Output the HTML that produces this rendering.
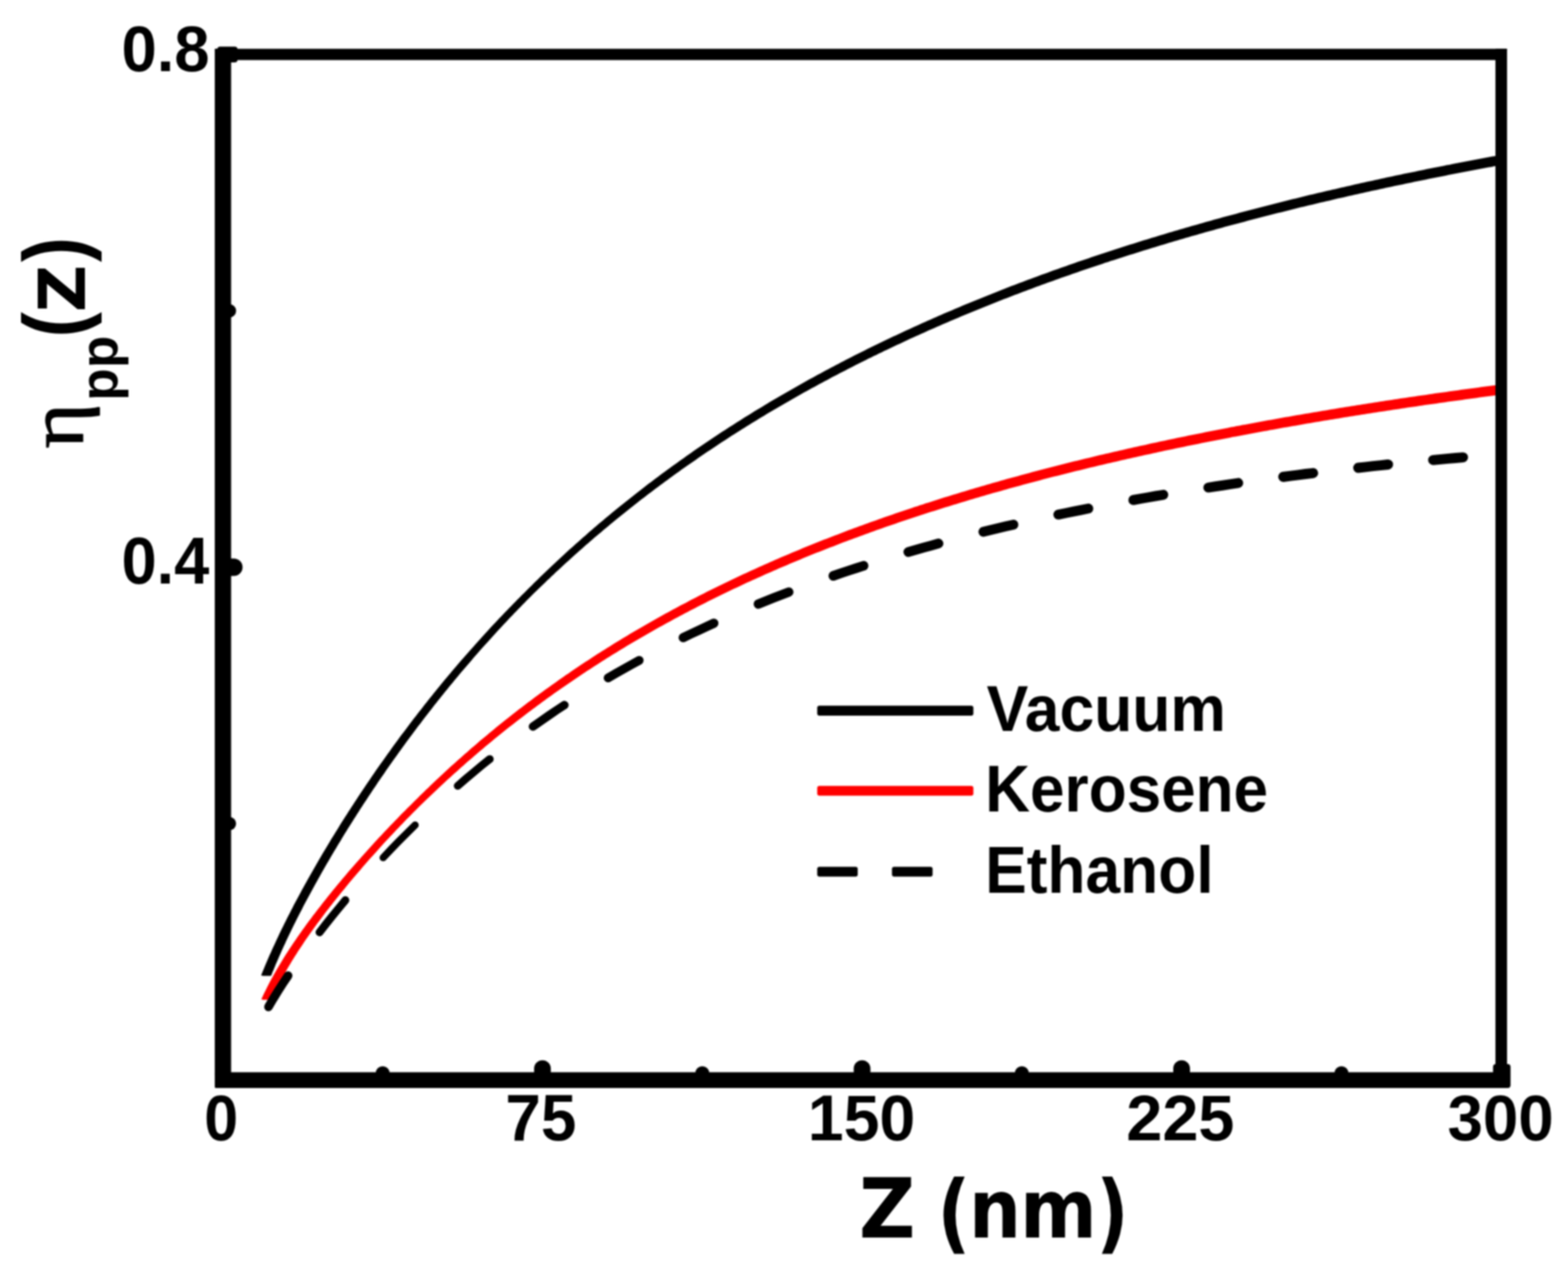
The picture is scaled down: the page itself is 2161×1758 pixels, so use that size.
<!DOCTYPE html>
<html lang="en">
<head>
<meta charset="utf-8">
<title>Efficiency versus separation Z (nm) for vacuum, kerosene and ethanol</title>
<style>
html,body{margin:0;padding:0;background:#fff;}
body{width:2161px;height:1758px;overflow:hidden;}
svg{display:block;filter:blur(0.8px);}
</style>
</head>
<body>
<svg xmlns="http://www.w3.org/2000/svg" width="2161" height="1758" viewBox="0 0 2161 1758">
<rect width="2161" height="1758" fill="#fff"/>
<path d="M365.3,1377.6 Q359.8,1377.6 360.4,1376.3 L361.0,1374.9 L362.7,1371.3 L364.5,1367.6 L366.3,1364.0 L368.1,1360.3 L369.9,1356.7 L371.8,1353.1 L373.7,1349.5 L375.7,1346.0 L377.6,1342.4 L379.6,1338.9 L381.6,1335.4 L383.7,1331.9 L385.8,1328.4 L387.9,1324.9 L390.0,1321.4 L392.1,1318.0 L394.3,1314.6 L396.5,1311.2 L398.7,1307.8 L400.9,1304.4 L403.2,1301.0 L405.4,1297.7 L407.7,1294.4 L410.0,1291.0 L412.3,1287.7 L414.6,1284.4 L417.0,1281.1 L419.3,1277.9 L421.7,1274.6 L424.1,1271.3 L426.5,1268.1 L428.9,1264.9 L431.3,1261.6 L433.8,1258.4 L436.2,1255.2 L438.7,1252.0 L441.2,1248.9 L443.6,1245.7 L446.1,1242.5 L448.6,1239.4 L451.1,1236.2 L453.7,1233.1 L456.2,1229.9 L458.7,1226.8 L461.3,1223.7 L463.9,1220.6 L466.4,1217.5 L469.0,1214.4 L471.6,1211.3 L474.2,1208.2 L476.8,1205.2 L479.4,1202.1 L482.0,1199.1 L484.7,1196.0 L487.3,1193.0 L489.9,1189.9 L492.6,1186.9 L495.3,1183.9 L497.9,1180.9 L500.6,1177.9 L503.3,1174.9 L506.0,1171.9 L508.7,1168.9 L511.4,1165.9 L514.1,1163.0 L516.8,1160.0 L519.6,1157.1 L522.3,1154.1 L525.1,1151.2 L527.8,1148.2 L530.6,1145.3 L533.3,1142.4 L536.1,1139.5 L538.9,1136.6 L541.7,1133.7 L544.5,1130.8 L547.3,1127.9 L550.1,1125.0 L552.9,1122.1 L555.7,1119.3 L558.6,1116.4 L561.4,1113.6 L564.3,1110.7 L567.1,1107.9 L570.0,1105.1 L572.8,1102.2 L575.7,1099.4 L578.5,1096.6 L581.4,1093.8 L584.3,1090.9 L587.2,1088.1 L590.1,1085.4 L593.0,1082.6 L595.9,1079.8 L598.8,1077.0 L601.7,1074.3 L604.7,1071.5 L607.6,1068.8 L610.6,1066.0 L613.5,1063.3 L616.5,1060.6 L619.4,1057.8 L622.4,1055.1 L625.4,1052.4 L628.4,1049.7 L631.4,1047.1 L634.4,1044.4 L637.4,1041.7 L640.4,1039.1 L643.5,1036.4 L646.5,1033.8 L649.5,1031.1 L652.6,1028.5 L655.6,1025.9 L658.7,1023.2 L661.7,1020.6 L664.8,1018.0 L667.9,1015.5 L671.0,1012.9 L674.1,1010.3 L677.2,1007.7 L680.3,1005.2 L683.4,1002.6 L686.5,1000.1 L689.7,997.6 L692.8,995.0 L695.9,992.5 L699.1,990.0 L702.3,987.5 L705.4,985.0 L708.6,982.6 L711.8,980.1 L714.9,977.6 L718.1,975.2 L721.3,972.7 L724.5,970.3 L727.7,967.8 L731.0,965.4 L734.2,963.0 L737.4,960.6 L740.6,958.2 L743.9,955.8 L747.1,953.5 L750.4,951.1 L753.6,948.7 L756.9,946.4 L760.2,944.0 L763.5,941.7 L766.7,939.4 L770.0,937.0 L773.3,934.7 L776.6,932.4 L779.9,930.1 L783.3,927.9 L786.6,925.6 L789.9,923.3 L793.2,921.1 L796.6,918.8 L799.9,916.6 L803.3,914.3 L806.6,912.1 L810.0,909.9 L813.4,907.7 L816.7,905.5 L820.1,903.3 L823.5,901.1 L826.9,899.0 L830.3,896.8 L833.7,894.7 L837.1,892.5 L840.5,890.4 L843.9,888.3 L847.4,886.1 L850.8,884.0 L854.2,881.9 L857.7,879.8 L861.1,877.8 L864.6,875.7 L868.0,873.6 L871.5,871.6 L874.9,869.5 L878.4,867.5 L881.9,865.5 L885.4,863.4 L888.8,861.4 L892.3,859.4 L895.8,857.4 L899.3,855.4 L902.8,853.5 L906.3,851.5 L909.9,849.5 L913.4,847.6 L916.9,845.6 L920.4,843.7 L924.0,841.8 L927.5,839.8 L931.0,837.9 L934.6,836.0 L938.1,834.1 L941.7,832.2 L945.3,830.4 L948.8,828.5 L952.4,826.6 L956.0,824.8 L959.5,822.9 L963.1,821.1 L966.7,819.3 L970.3,817.4 L973.9,815.6 L977.5,813.8 L981.1,812.0 L984.7,810.2 L988.3,808.5 L991.9,806.7 L995.5,804.9 L999.1,803.2 L1002.8,801.4 L1006.4,799.7 L1010.0,798.0 L1013.7,796.2 L1017.3,794.5 L1021.0,792.8 L1024.6,791.1 L1028.3,789.4 L1031.9,787.7 L1035.6,786.1 L1039.2,784.4 L1042.9,782.7 L1046.6,781.1 L1050.2,779.4 L1053.9,777.8 L1057.6,776.2 L1061.3,774.5 L1064.9,772.9 L1068.6,771.3 L1072.3,769.7 L1076.0,768.1 L1079.7,766.5 L1083.4,765.0 L1087.1,763.4 L1090.8,761.8 L1094.5,760.3 L1098.3,758.7 L1102.0,757.2 L1105.7,755.6 L1109.4,754.1 L1113.1,752.6 L1116.9,751.1 L1120.6,749.6 L1124.3,748.1 L1128.1,746.6 L1131.8,745.1 L1135.5,743.6 L1139.3,742.2 L1143.0,740.7 L1146.8,739.2 L1150.5,737.8 L1154.3,736.4 L1158.0,734.9 L1161.8,733.5 L1165.6,732.1 L1169.3,730.6 L1173.1,729.2 L1176.9,727.8 L1180.6,726.4 L1184.4,725.1 L1188.2,723.7 L1192.0,722.3 L1195.7,720.9 L1199.5,719.6 L1203.3,718.2 L1207.1,716.9 L1210.9,715.5 L1214.7,714.2 L1218.5,712.8 L1222.3,711.5 L1226.1,710.2 L1229.9,708.9 L1233.7,707.6 L1237.5,706.3 L1241.3,705.0 L1245.1,703.7 L1248.9,702.4 L1252.7,701.2 L1256.5,699.9 L1260.4,698.6 L1264.2,697.4 L1268.0,696.1 L1271.8,694.9 L1275.6,693.6 L1279.5,692.4 L1283.3,691.2 L1287.1,689.9 L1291.0,688.7 L1294.8,687.5 L1298.6,686.3 L1302.5,685.1 L1306.3,683.9 L1310.1,682.7 L1314.0,681.6 L1317.8,680.4 L1321.7,679.2 L1325.5,678.0 L1329.4,676.9 L1333.2,675.7 L1337.1,674.6 L1340.9,673.4 L1344.8,672.3 L1348.6,671.2 L1352.5,670.0 L1356.4,668.9 L1360.2,667.8 L1364.1,666.7 L1367.9,665.6 L1371.8,664.5 L1375.7,663.4 L1379.5,662.3 L1383.4,661.2 L1387.3,660.1 L1391.2,659.1 L1395.0,658.0 L1398.9,656.9 L1402.8,655.9 L1406.7,654.8 L1410.5,653.8 L1414.4,652.7 L1418.3,651.7 L1422.2,650.6 L1426.1,649.6 L1430.0,648.6 L1433.8,647.5 L1437.7,646.5 L1441.6,645.5 L1445.5,644.5 L1449.4,643.5 L1453.3,642.5 L1457.2,641.5 L1461.1,640.5 L1465.0,639.5 L1468.9,638.6 L1472.8,637.6 L1476.7,636.6 L1480.6,635.6 L1484.5,634.7 L1488.4,633.7 L1492.3,632.8 L1496.2,631.8 L1500.1,630.9 L1504.0,629.9 L1507.9,629.0 L1511.8,628.1 L1515.7,627.1 L1519.6,626.2 L1523.5,625.3 L1527.4,624.4 L1531.4,623.5 L1535.3,622.6 L1539.2,621.7 L1543.1,620.8 L1547.0,619.9 L1550.9,619.0 L1554.9,618.1 L1558.8,617.2 L1562.7,616.3 L1566.6,615.5 L1570.5,614.6 L1574.5,613.7 L1578.4,612.9 L1582.3,612.0 L1586.2,611.1 L1590.1,610.3 L1594.1,609.4 L1598.0,608.6 L1601.9,607.7 L1605.9,606.9 L1609.8,606.1 L1613.7,605.2 L1617.6,604.4 L1621.6,603.6 L1625.5,602.8 L1629.4,602.0 L1633.4,601.2 L1637.3,600.3 L1641.2,599.5 L1645.2,598.7 L1649.1,597.9 L1653.1,597.2 L1657.0,596.4 L1660.9,595.6 L1664.9,594.8 L1668.8,594.0 L1672.8,593.2 L1676.7,592.5 L1680.6,591.7 L1684.6,590.9 L1688.5,590.2 L1692.5,589.4 L1696.4,588.6 L1700.3,587.9 L1704.3,587.1 L1708.2,586.4 L1712.2,585.6 L1716.1,584.9 L1720.1,584.2 L1724.0,583.4 L1728.0,582.7 L1731.9,582.0 L1735.9,581.2 L1739.8,580.5 L1743.8,579.8 L1747.7,579.1 L1751.7,578.4 L1755.6,577.7 L1759.6,577.0 L1763.5,576.2 L1767.5,575.5 L1771.4,574.8 L1775.4,574.2 L1779.4,573.5 L1783.3,572.8 L1787.3,572.1 L1791.2,571.4 L1795.2,570.7 L1799.1,570.0 L1803.1,569.4 L1807.0,568.7 L1811.0,568.0 L1815.0,567.4 L1818.9,566.7 L1822.9,566.0 L1826.8,565.4 L1830.8,564.7 L1834.8,564.1 L1838.7,563.4 L1842.7,562.8 L1846.7,562.1 L1850.6,561.5 L1854.6,560.8 L1858.5,560.2 L1862.5,559.5 L1866.5,558.9 L1870.4,558.3 L1874.4,557.7 L1878.4,557.0 L1882.3,556.4 L1886.3,555.8 L1890.3,555.2 L1894.2,554.5 L1898.2,553.9 L1902.2,553.3 L1906.1,552.7 L1910.1,552.1 L1914.1,551.5 L1918.0,550.9 L1922.0,550.3 L1926.0,549.7 L1929.9,549.1 L1933.9,548.5 L1937.9,547.9 L1941.9,547.3 L1945.8,546.8 L1949.8,546.2 L1953.8,545.6 L1957.7,545.0 L1961.7,544.4 L1965.7,543.9 L1969.7,543.3 L1973.6,542.7 L1977.6,542.1 L1981.6,541.6 L1985.6,541.0 L1989.5,540.5 L1993.5,539.9 L1997.5,539.3 L2001.5,538.8 L2005.4,538.2 L2009.4,537.7 L2013.4,537.1 L2017.4,536.6 L2021.3,536.0 L2025.3,535.5 L2029.3,535.0 L2033.3,534.4 L2037.2,533.9 L2041.2,533.3 L2045.2,532.8 L2049.2,532.3 L2053.2,531.7 L2057.1,531.2 L2061.1,530.7 L2065.1,530.2 L2066.9,543.9 L2062.9,544.5 L2059.0,545.0 L2055.0,545.5 L2051.0,546.0 L2047.0,546.6 L2043.1,547.1 L2039.1,547.6 L2035.1,548.2 L2031.2,548.7 L2027.2,549.2 L2023.2,549.8 L2019.2,550.3 L2015.3,550.9 L2011.3,551.4 L2007.3,552.0 L2003.4,552.5 L1999.4,553.1 L1995.4,553.6 L1991.5,554.2 L1987.5,554.7 L1983.5,555.3 L1979.6,555.9 L1975.6,556.4 L1971.6,557.0 L1967.7,557.6 L1963.7,558.1 L1959.7,558.7 L1955.8,559.3 L1951.8,559.9 L1947.8,560.5 L1943.9,561.0 L1939.9,561.6 L1936.0,562.2 L1932.0,562.8 L1928.0,563.4 L1924.1,564.0 L1920.1,564.6 L1916.1,565.2 L1912.2,565.8 L1908.2,566.4 L1904.3,567.0 L1900.3,567.6 L1896.3,568.2 L1892.4,568.8 L1888.4,569.4 L1884.5,570.1 L1880.5,570.7 L1876.6,571.3 L1872.6,571.9 L1868.6,572.6 L1864.7,573.2 L1860.7,573.8 L1856.8,574.5 L1852.8,575.1 L1848.9,575.7 L1844.9,576.4 L1841.0,577.0 L1837.0,577.7 L1833.1,578.3 L1829.1,579.0 L1825.2,579.6 L1821.2,580.3 L1817.3,581.0 L1813.3,581.6 L1809.4,582.3 L1805.4,583.0 L1801.5,583.6 L1797.5,584.3 L1793.6,585.0 L1789.6,585.7 L1785.7,586.4 L1781.7,587.0 L1777.8,587.7 L1773.8,588.4 L1769.9,589.1 L1765.9,589.8 L1762.0,590.5 L1758.1,591.2 L1754.1,591.9 L1750.2,592.6 L1746.2,593.4 L1742.3,594.1 L1738.4,594.8 L1734.4,595.5 L1730.5,596.2 L1726.5,597.0 L1722.6,597.7 L1718.7,598.4 L1714.7,599.2 L1710.8,599.9 L1706.9,600.7 L1702.9,601.4 L1699.0,602.1 L1695.1,602.9 L1691.1,603.7 L1687.2,604.4 L1683.3,605.2 L1679.3,605.9 L1675.4,606.7 L1671.5,607.5 L1667.5,608.3 L1663.6,609.0 L1659.7,609.8 L1655.8,610.6 L1651.8,611.4 L1647.9,612.2 L1644.0,613.0 L1640.1,613.8 L1636.1,614.6 L1632.2,615.4 L1628.3,616.2 L1624.4,617.0 L1620.5,617.8 L1616.5,618.7 L1612.6,619.5 L1608.7,620.3 L1604.8,621.1 L1600.9,622.0 L1597.0,622.8 L1593.0,623.7 L1589.1,624.5 L1585.2,625.4 L1581.3,626.2 L1577.4,627.1 L1573.5,627.9 L1569.6,628.8 L1565.7,629.7 L1561.8,630.5 L1557.9,631.4 L1553.9,632.3 L1550.0,633.2 L1546.1,634.1 L1542.2,635.0 L1538.3,635.9 L1534.4,636.8 L1530.5,637.7 L1526.6,638.6 L1522.7,639.5 L1518.8,640.4 L1514.9,641.3 L1511.1,642.2 L1507.2,643.2 L1503.3,644.1 L1499.4,645.0 L1495.5,646.0 L1491.6,646.9 L1487.7,647.9 L1483.8,648.8 L1479.9,649.8 L1476.1,650.8 L1472.2,651.7 L1468.3,652.7 L1464.4,653.7 L1460.5,654.7 L1456.6,655.7 L1452.8,656.6 L1448.9,657.6 L1445.0,658.6 L1441.1,659.6 L1437.3,660.6 L1433.4,661.7 L1429.5,662.7 L1425.7,663.7 L1421.8,664.7 L1417.9,665.8 L1414.1,666.8 L1410.2,667.8 L1406.3,668.9 L1402.5,669.9 L1398.6,671.0 L1394.8,672.1 L1390.9,673.1 L1387.0,674.2 L1383.2,675.3 L1379.3,676.4 L1375.5,677.4 L1371.6,678.5 L1367.8,679.6 L1363.9,680.7 L1360.1,681.8 L1356.3,682.9 L1352.4,684.1 L1348.6,685.2 L1344.7,686.3 L1340.9,687.4 L1337.1,688.6 L1333.2,689.7 L1329.4,690.9 L1325.6,692.0 L1321.7,693.2 L1317.9,694.4 L1314.1,695.5 L1310.3,696.7 L1306.4,697.9 L1302.6,699.1 L1298.8,700.3 L1295.0,701.5 L1291.2,702.7 L1287.4,703.9 L1283.5,705.1 L1279.7,706.3 L1275.9,707.5 L1272.1,708.8 L1268.3,710.0 L1264.5,711.3 L1260.7,712.5 L1256.9,713.8 L1253.1,715.0 L1249.3,716.3 L1245.5,717.6 L1241.7,718.8 L1238.0,720.1 L1234.2,721.4 L1230.4,722.7 L1226.6,724.0 L1222.8,725.3 L1219.1,726.6 L1215.3,728.0 L1211.5,729.3 L1207.7,730.6 L1204.0,732.0 L1200.2,733.3 L1196.4,734.7 L1192.7,736.0 L1188.9,737.4 L1185.2,738.8 L1181.4,740.2 L1177.7,741.5 L1173.9,742.9 L1170.2,744.3 L1166.4,745.7 L1162.7,747.1 L1158.9,748.6 L1155.2,750.0 L1151.5,751.4 L1147.8,752.9 L1144.0,754.3 L1140.3,755.8 L1136.6,757.2 L1132.9,758.7 L1129.1,760.2 L1125.4,761.6 L1121.7,763.1 L1118.0,764.6 L1114.3,766.1 L1110.6,767.6 L1106.9,769.1 L1103.2,770.7 L1099.5,772.2 L1095.8,773.7 L1092.1,775.3 L1088.4,776.8 L1084.8,778.4 L1081.1,780.0 L1077.4,781.5 L1073.7,783.1 L1070.1,784.7 L1066.4,786.3 L1062.7,787.9 L1059.1,789.5 L1055.4,791.1 L1051.8,792.7 L1048.1,794.4 L1044.5,796.0 L1040.8,797.7 L1037.2,799.3 L1033.6,801.0 L1029.9,802.6 L1026.3,804.3 L1022.7,806.0 L1019.1,807.7 L1015.4,809.4 L1011.8,811.1 L1008.2,812.8 L1004.6,814.5 L1001.0,816.3 L997.4,818.0 L993.8,819.8 L990.2,821.5 L986.6,823.3 L983.1,825.1 L979.5,826.8 L975.9,828.6 L972.3,830.4 L968.8,832.2 L965.2,834.0 L961.7,835.8 L958.1,837.7 L954.6,839.5 L951.0,841.3 L947.5,843.2 L943.9,845.1 L940.4,846.9 L936.9,848.8 L933.3,850.7 L929.8,852.6 L926.3,854.5 L922.8,856.4 L919.3,858.3 L915.8,860.2 L912.3,862.2 L908.8,864.1 L905.3,866.1 L901.8,868.0 L898.4,870.0 L894.9,872.0 L891.4,873.9 L888.0,875.9 L884.5,877.9 L881.0,879.9 L877.6,882.0 L874.1,884.0 L870.7,886.0 L867.3,888.1 L863.8,890.1 L860.4,892.2 L857.0,894.2 L853.6,896.3 L850.2,898.4 L846.8,900.5 L843.4,902.6 L840.0,904.7 L836.6,906.8 L833.2,909.0 L829.9,911.1 L826.5,913.2 L823.1,915.4 L819.8,917.6 L816.4,919.7 L813.1,921.9 L809.7,924.1 L806.4,926.3 L803.0,928.5 L799.7,930.7 L796.4,932.9 L793.1,935.2 L789.8,937.4 L786.5,939.7 L783.2,941.9 L779.9,944.2 L776.6,946.5 L773.3,948.7 L770.1,951.0 L766.8,953.3 L763.5,955.6 L760.3,958.0 L757.0,960.3 L753.8,962.6 L750.5,965.0 L747.3,967.3 L744.1,969.7 L740.9,972.0 L737.7,974.4 L734.5,976.8 L731.3,979.2 L728.1,981.6 L724.9,984.0 L721.7,986.4 L718.5,988.9 L715.4,991.3 L712.2,993.7 L709.0,996.2 L705.9,998.7 L702.8,1001.1 L699.6,1003.6 L696.5,1006.1 L693.4,1008.6 L690.3,1011.1 L687.2,1013.6 L684.1,1016.1 L681.0,1018.6 L677.9,1021.2 L674.8,1023.7 L671.7,1026.3 L668.6,1028.8 L665.6,1031.4 L662.5,1034.0 L659.5,1036.6 L656.4,1039.2 L653.4,1041.8 L650.4,1044.4 L647.4,1047.0 L644.3,1049.6 L641.3,1052.2 L638.3,1054.9 L635.3,1057.5 L632.4,1060.2 L629.4,1062.9 L626.4,1065.5 L623.4,1068.2 L620.5,1070.9 L617.5,1073.6 L614.6,1076.3 L611.7,1079.0 L608.7,1081.7 L605.8,1084.4 L602.9,1087.2 L600.0,1089.9 L597.1,1092.7 L594.2,1095.4 L591.3,1098.2 L588.4,1101.0 L585.5,1103.7 L582.7,1106.5 L579.8,1109.3 L577.0,1112.1 L574.1,1114.9 L571.3,1117.7 L568.5,1120.6 L565.7,1123.4 L562.9,1126.3 L560.1,1129.1 L557.3,1132.0 L554.5,1134.9 L551.7,1137.8 L549.0,1140.7 L546.2,1143.6 L543.5,1146.5 L540.7,1149.4 L538.0,1152.3 L535.3,1155.2 L532.6,1158.1 L529.8,1161.1 L527.1,1164.0 L524.4,1167.0 L521.8,1169.9 L519.1,1172.9 L516.4,1175.9 L513.7,1178.9 L511.1,1181.8 L508.4,1184.8 L505.8,1187.8 L503.2,1190.8 L500.5,1193.8 L497.9,1196.9 L495.3,1199.9 L492.7,1202.9 L490.1,1206.0 L487.5,1209.0 L485.0,1212.1 L482.4,1215.1 L479.8,1218.2 L477.3,1221.3 L474.8,1224.4 L472.2,1227.5 L469.7,1230.6 L467.2,1233.7 L464.7,1236.8 L462.2,1239.9 L459.7,1243.0 L457.3,1246.2 L454.8,1249.3 L452.4,1252.5 L449.9,1255.6 L447.5,1258.8 L445.1,1262.0 L442.7,1265.2 L440.3,1268.4 L437.9,1271.6 L435.6,1274.8 L433.2,1278.0 L430.9,1281.2 L428.6,1284.5 L426.3,1287.7 L424.0,1291.0 L421.7,1294.3 L419.5,1297.6 L417.3,1300.9 L415.1,1304.2 L412.9,1307.5 L410.7,1310.8 L408.6,1314.2 L406.4,1317.5 L404.3,1320.9 L402.2,1324.3 L400.2,1327.7 L398.2,1331.1 L396.1,1334.5 L394.2,1337.9 L392.2,1341.4 L390.3,1344.8 L388.4,1348.3 L386.5,1351.8 L384.7,1355.3 L382.8,1358.8 L381.1,1362.4 L379.3,1365.9 L377.6,1369.5 L375.9,1373.0 L374.8,1375.3 Q373.8,1377.6 368.3,1377.6Z" fill="#ff0000"/>
<path d="M365.0,1344.6 Q359.5,1344.6 360.0,1343.4 L360.5,1342.2 L362.0,1338.4 L363.6,1334.7 L365.1,1331.0 L366.7,1327.2 L368.3,1323.5 L369.9,1319.8 L371.5,1316.1 L373.2,1312.4 L374.8,1308.7 L376.5,1305.1 L378.2,1301.4 L379.9,1297.7 L381.6,1294.1 L383.3,1290.4 L385.0,1286.8 L386.8,1283.1 L388.5,1279.5 L390.3,1275.9 L392.1,1272.3 L393.9,1268.7 L395.7,1265.1 L397.5,1261.5 L399.4,1257.9 L401.2,1254.3 L403.1,1250.7 L404.9,1247.1 L406.8,1243.6 L408.7,1240.0 L410.6,1236.5 L412.5,1232.9 L414.4,1229.4 L416.3,1225.8 L418.3,1222.3 L420.2,1218.8 L422.2,1215.2 L424.1,1211.7 L426.1,1208.2 L428.1,1204.7 L430.1,1201.2 L432.1,1197.7 L434.1,1194.2 L436.1,1190.7 L438.1,1187.2 L440.1,1183.7 L442.2,1180.3 L444.2,1176.8 L446.3,1173.3 L448.3,1169.9 L450.4,1166.4 L452.5,1163.0 L454.6,1159.5 L456.6,1156.1 L458.7,1152.7 L460.9,1149.2 L463.0,1145.8 L465.1,1142.4 L467.2,1139.0 L469.3,1135.5 L471.5,1132.1 L473.6,1128.7 L475.8,1125.3 L478.0,1121.9 L480.1,1118.5 L482.3,1115.2 L484.5,1111.8 L486.7,1108.4 L488.9,1105.0 L491.1,1101.7 L493.3,1098.3 L495.5,1095.0 L497.8,1091.6 L500.0,1088.3 L502.2,1084.9 L504.5,1081.6 L506.7,1078.2 L509.0,1074.9 L511.3,1071.6 L513.5,1068.3 L515.8,1065.0 L518.1,1061.6 L520.4,1058.3 L522.7,1055.0 L525.0,1051.7 L527.4,1048.5 L529.7,1045.2 L532.0,1041.9 L534.4,1038.6 L536.7,1035.4 L539.1,1032.1 L541.4,1028.8 L543.8,1025.6 L546.2,1022.3 L548.6,1019.1 L550.9,1015.8 L553.3,1012.6 L555.7,1009.4 L558.2,1006.2 L560.6,1002.9 L563.0,999.7 L565.4,996.5 L567.9,993.3 L570.3,990.1 L572.8,986.9 L575.2,983.7 L577.7,980.6 L580.2,977.4 L582.7,974.2 L585.1,971.1 L587.6,967.9 L590.1,964.8 L592.7,961.6 L595.2,958.5 L597.7,955.3 L600.2,952.2 L602.8,949.1 L605.3,946.0 L607.9,942.8 L610.4,939.7 L613.0,936.6 L615.6,933.5 L618.1,930.5 L620.7,927.4 L623.3,924.3 L625.9,921.2 L628.5,918.2 L631.2,915.1 L633.8,912.1 L636.4,909.0 L639.1,906.0 L641.7,902.9 L644.4,899.9 L647.0,896.9 L649.7,893.9 L652.4,890.9 L655.0,887.9 L657.7,884.9 L660.4,881.9 L663.1,878.9 L665.8,875.9 L668.5,872.9 L671.3,870.0 L674.0,867.0 L676.7,864.1 L679.5,861.1 L682.2,858.2 L685.0,855.3 L687.7,852.3 L690.5,849.4 L693.3,846.5 L696.1,843.6 L698.9,840.7 L701.7,837.8 L704.5,834.9 L707.3,832.0 L710.1,829.2 L712.9,826.3 L715.8,823.5 L718.6,820.6 L721.5,817.8 L724.3,814.9 L727.2,812.1 L730.0,809.2 L732.9,806.4 L735.7,803.6 L738.6,800.8 L741.5,797.9 L744.4,795.1 L747.3,792.3 L750.2,789.5 L753.1,786.8 L756.0,784.0 L758.9,781.2 L761.8,778.5 L764.8,775.7 L767.7,773.0 L770.7,770.2 L773.6,767.5 L776.6,764.7 L779.5,762.0 L782.5,759.3 L785.5,756.6 L788.5,753.9 L791.5,751.2 L794.5,748.5 L797.5,745.9 L800.5,743.2 L803.5,740.5 L806.6,737.9 L809.6,735.2 L812.6,732.6 L815.7,730.0 L818.7,727.3 L821.8,724.7 L824.8,722.1 L827.9,719.5 L831.0,716.9 L834.1,714.3 L837.2,711.7 L840.3,709.2 L843.4,706.6 L846.5,704.1 L849.6,701.5 L852.7,699.0 L855.8,696.4 L859.0,693.9 L862.1,691.4 L865.3,688.9 L868.4,686.4 L871.6,683.9 L874.7,681.4 L877.9,678.9 L881.1,676.4 L884.3,674.0 L887.5,671.5 L890.6,669.0 L893.8,666.6 L897.1,664.2 L900.3,661.7 L903.5,659.3 L906.7,656.9 L909.9,654.5 L913.2,652.1 L916.4,649.7 L919.7,647.3 L922.9,645.0 L926.2,642.6 L929.4,640.2 L932.7,637.9 L936.0,635.5 L939.2,633.2 L942.5,630.9 L945.8,628.5 L949.1,626.2 L952.4,623.9 L955.7,621.6 L959.0,619.3 L962.3,617.1 L965.7,614.8 L969.0,612.5 L972.3,610.2 L975.7,608.0 L979.0,605.7 L982.3,603.5 L985.7,601.3 L989.1,599.1 L992.4,596.8 L995.8,594.6 L999.2,592.4 L1002.5,590.2 L1005.9,588.1 L1009.3,585.9 L1012.7,583.7 L1016.1,581.6 L1019.5,579.4 L1022.9,577.3 L1026.3,575.1 L1029.7,573.0 L1033.1,570.9 L1036.6,568.7 L1040.0,566.6 L1043.4,564.5 L1046.9,562.4 L1050.3,560.4 L1053.8,558.3 L1057.2,556.2 L1060.7,554.1 L1064.1,552.1 L1067.6,550.0 L1071.1,548.0 L1074.5,546.0 L1078.0,543.9 L1081.5,541.9 L1085.0,539.9 L1088.5,537.9 L1092.0,535.9 L1095.5,533.9 L1099.0,531.9 L1102.5,530.0 L1106.0,528.0 L1109.5,526.0 L1113.0,524.1 L1116.6,522.1 L1120.1,520.2 L1123.6,518.3 L1127.1,516.3 L1130.7,514.4 L1134.2,512.5 L1137.8,510.6 L1141.3,508.7 L1144.9,506.8 L1148.4,504.9 L1152.0,503.1 L1155.6,501.2 L1159.1,499.3 L1162.7,497.5 L1166.3,495.6 L1169.9,493.8 L1173.4,492.0 L1177.0,490.1 L1180.6,488.3 L1184.2,486.5 L1187.8,484.7 L1191.4,482.9 L1195.0,481.1 L1198.6,479.3 L1202.2,477.6 L1205.9,475.8 L1209.5,474.0 L1213.1,472.3 L1216.7,470.5 L1220.3,468.8 L1224.0,467.0 L1227.6,465.3 L1231.2,463.6 L1234.9,461.9 L1238.5,460.2 L1242.2,458.5 L1245.8,456.8 L1249.5,455.1 L1253.1,453.4 L1256.8,451.7 L1260.5,450.0 L1264.1,448.4 L1267.8,446.7 L1271.5,445.1 L1275.1,443.4 L1278.8,441.8 L1282.5,440.2 L1286.2,438.5 L1289.8,436.9 L1293.5,435.3 L1297.2,433.7 L1300.9,432.1 L1304.6,430.5 L1308.3,428.9 L1312.0,427.4 L1315.7,425.8 L1319.4,424.2 L1323.1,422.7 L1326.8,421.1 L1330.5,419.5 L1334.3,418.0 L1338.0,416.5 L1341.7,414.9 L1345.4,413.4 L1349.2,411.9 L1352.9,410.4 L1356.6,408.9 L1360.3,407.4 L1364.1,405.9 L1367.8,404.4 L1371.6,402.9 L1375.3,401.4 L1379.0,400.0 L1382.8,398.5 L1386.5,397.0 L1390.3,395.6 L1394.0,394.1 L1397.8,392.7 L1401.6,391.3 L1405.3,389.8 L1409.1,388.4 L1412.8,387.0 L1416.6,385.6 L1420.4,384.2 L1424.2,382.8 L1427.9,381.4 L1431.7,380.0 L1435.5,378.6 L1439.3,377.2 L1443.0,375.9 L1446.8,374.5 L1450.6,373.1 L1454.4,371.8 L1458.2,370.4 L1462.0,369.1 L1465.8,367.7 L1469.6,366.4 L1473.3,365.1 L1477.1,363.7 L1480.9,362.4 L1484.7,361.1 L1488.5,359.8 L1492.4,358.5 L1496.2,357.2 L1500.0,355.9 L1503.8,354.6 L1507.6,353.3 L1511.4,352.1 L1515.2,350.8 L1519.0,349.5 L1522.9,348.3 L1526.7,347.0 L1530.5,345.7 L1534.3,344.5 L1538.1,343.3 L1542.0,342.0 L1545.8,340.8 L1549.6,339.6 L1553.5,338.3 L1557.3,337.1 L1561.1,335.9 L1565.0,334.7 L1568.8,333.5 L1572.6,332.3 L1576.5,331.1 L1580.3,329.9 L1584.2,328.8 L1588.0,327.6 L1591.9,326.4 L1595.7,325.2 L1599.6,324.1 L1603.4,322.9 L1607.3,321.8 L1611.1,320.6 L1615.0,319.5 L1618.8,318.3 L1622.7,317.2 L1626.5,316.1 L1630.4,314.9 L1634.3,313.8 L1638.1,312.7 L1642.0,311.6 L1645.8,310.5 L1649.7,309.4 L1653.6,308.3 L1657.4,307.2 L1661.3,306.1 L1665.2,305.0 L1669.1,303.9 L1672.9,302.8 L1676.8,301.8 L1680.7,300.7 L1684.6,299.6 L1688.4,298.6 L1692.3,297.5 L1696.2,296.5 L1700.1,295.4 L1704.0,294.4 L1707.8,293.3 L1711.7,292.3 L1715.6,291.3 L1719.5,290.2 L1723.4,289.2 L1727.3,288.2 L1731.2,287.2 L1735.0,286.2 L1738.9,285.2 L1742.8,284.2 L1746.7,283.2 L1750.6,282.2 L1754.5,281.2 L1758.4,280.2 L1762.3,279.2 L1766.2,278.2 L1770.1,277.2 L1774.0,276.3 L1777.9,275.3 L1781.8,274.3 L1785.7,273.4 L1789.6,272.4 L1793.5,271.5 L1797.4,270.5 L1801.3,269.6 L1805.2,268.6 L1809.2,267.7 L1813.1,266.8 L1817.0,265.8 L1820.9,264.9 L1824.8,264.0 L1828.7,263.1 L1832.6,262.2 L1836.5,261.3 L1840.5,260.4 L1844.4,259.4 L1848.3,258.5 L1852.2,257.7 L1856.1,256.8 L1860.0,255.9 L1864.0,255.0 L1867.9,254.1 L1871.8,253.2 L1875.7,252.3 L1879.6,251.5 L1883.6,250.6 L1887.5,249.7 L1891.4,248.9 L1895.3,248.0 L1899.3,247.2 L1903.2,246.3 L1907.1,245.5 L1911.1,244.6 L1915.0,243.8 L1918.9,242.9 L1922.8,242.1 L1926.8,241.3 L1930.7,240.5 L1934.6,239.6 L1938.6,238.8 L1942.5,238.0 L1946.4,237.2 L1950.4,236.4 L1954.3,235.5 L1958.3,234.7 L1962.2,233.9 L1966.1,233.1 L1970.1,232.3 L1974.0,231.6 L1977.9,230.8 L1981.9,230.0 L1985.8,229.2 L1989.8,228.4 L1993.7,227.6 L1997.7,226.9 L2001.6,226.1 L2005.5,225.3 L2009.5,224.6 L2013.4,223.8 L2017.4,223.0 L2021.3,222.3 L2025.3,221.5 L2029.2,220.8 L2033.2,220.0 L2037.1,219.3 L2041.1,218.5 L2045.0,217.8 L2049.0,217.1 L2052.9,216.3 L2056.9,215.6 L2060.8,214.9 L2064.8,214.1 L2067.2,227.7 L2063.3,228.4 L2059.4,229.1 L2055.4,229.9 L2051.5,230.6 L2047.5,231.3 L2043.6,232.1 L2039.7,232.8 L2035.7,233.5 L2031.8,234.3 L2027.8,235.0 L2023.9,235.8 L2020.0,236.5 L2016.0,237.3 L2012.1,238.0 L2008.2,238.8 L2004.2,239.6 L2000.3,240.3 L1996.4,241.1 L1992.4,241.9 L1988.5,242.7 L1984.6,243.4 L1980.6,244.2 L1976.7,245.0 L1972.8,245.8 L1968.9,246.6 L1964.9,247.4 L1961.0,248.2 L1957.1,249.0 L1953.1,249.8 L1949.2,250.6 L1945.3,251.4 L1941.4,252.2 L1937.4,253.0 L1933.5,253.9 L1929.6,254.7 L1925.7,255.5 L1921.8,256.3 L1917.8,257.2 L1913.9,258.0 L1910.0,258.8 L1906.1,259.7 L1902.2,260.5 L1898.3,261.4 L1894.3,262.2 L1890.4,263.1 L1886.5,264.0 L1882.6,264.8 L1878.7,265.7 L1874.8,266.6 L1870.9,267.4 L1867.0,268.3 L1863.1,269.2 L1859.1,270.1 L1855.2,271.0 L1851.3,271.9 L1847.4,272.7 L1843.5,273.6 L1839.6,274.5 L1835.7,275.4 L1831.8,276.4 L1827.9,277.3 L1824.0,278.2 L1820.1,279.1 L1816.2,280.0 L1812.3,281.0 L1808.4,281.9 L1804.5,282.8 L1800.6,283.8 L1796.7,284.7 L1792.8,285.6 L1788.9,286.6 L1785.1,287.5 L1781.2,288.5 L1777.3,289.5 L1773.4,290.4 L1769.5,291.4 L1765.6,292.4 L1761.7,293.3 L1757.8,294.3 L1754.0,295.3 L1750.1,296.3 L1746.2,297.3 L1742.3,298.3 L1738.4,299.3 L1734.6,300.3 L1730.7,301.3 L1726.8,302.3 L1722.9,303.3 L1719.1,304.3 L1715.2,305.4 L1711.3,306.4 L1707.5,307.4 L1703.6,308.5 L1699.7,309.5 L1695.8,310.5 L1692.0,311.6 L1688.1,312.6 L1684.3,313.7 L1680.4,314.8 L1676.5,315.8 L1672.7,316.9 L1668.8,318.0 L1665.0,319.1 L1661.1,320.1 L1657.2,321.2 L1653.4,322.3 L1649.5,323.4 L1645.7,324.5 L1641.8,325.6 L1638.0,326.7 L1634.1,327.8 L1630.3,329.0 L1626.5,330.1 L1622.6,331.2 L1618.8,332.3 L1614.9,333.5 L1611.1,334.6 L1607.3,335.8 L1603.4,336.9 L1599.6,338.1 L1595.7,339.2 L1591.9,340.4 L1588.1,341.5 L1584.3,342.7 L1580.4,343.9 L1576.6,345.1 L1572.8,346.3 L1569.0,347.5 L1565.1,348.7 L1561.3,349.9 L1557.5,351.1 L1553.7,352.3 L1549.9,353.5 L1546.1,354.7 L1542.2,355.9 L1538.4,357.2 L1534.6,358.4 L1530.8,359.6 L1527.0,360.9 L1523.2,362.1 L1519.4,363.4 L1515.6,364.7 L1511.8,365.9 L1508.0,367.2 L1504.2,368.5 L1500.4,369.8 L1496.6,371.0 L1492.8,372.3 L1489.1,373.6 L1485.3,374.9 L1481.5,376.2 L1477.7,377.5 L1473.9,378.9 L1470.1,380.2 L1466.4,381.5 L1462.6,382.8 L1458.8,384.2 L1455.0,385.5 L1451.3,386.9 L1447.5,388.2 L1443.7,389.6 L1440.0,391.0 L1436.2,392.3 L1432.5,393.7 L1428.7,395.1 L1424.9,396.5 L1421.2,397.9 L1417.4,399.3 L1413.7,400.7 L1410.0,402.1 L1406.2,403.5 L1402.5,404.9 L1398.7,406.3 L1395.0,407.8 L1391.3,409.2 L1387.5,410.7 L1383.8,412.1 L1380.1,413.6 L1376.3,415.0 L1372.6,416.5 L1368.9,418.0 L1365.2,419.4 L1361.5,420.9 L1357.7,422.4 L1354.0,423.9 L1350.3,425.4 L1346.6,426.9 L1342.9,428.4 L1339.2,430.0 L1335.5,431.5 L1331.8,433.0 L1328.1,434.6 L1324.4,436.1 L1320.7,437.7 L1317.0,439.2 L1313.4,440.8 L1309.7,442.3 L1306.0,443.9 L1302.3,445.5 L1298.7,447.1 L1295.0,448.7 L1291.3,450.3 L1287.6,451.9 L1284.0,453.5 L1280.3,455.1 L1276.7,456.7 L1273.0,458.4 L1269.4,460.0 L1265.7,461.7 L1262.1,463.3 L1258.4,465.0 L1254.8,466.6 L1251.2,468.3 L1247.5,470.0 L1243.9,471.7 L1240.3,473.4 L1236.6,475.0 L1233.0,476.8 L1229.4,478.5 L1225.8,480.2 L1222.2,481.9 L1218.6,483.6 L1215.0,485.4 L1211.4,487.1 L1207.8,488.9 L1204.2,490.6 L1200.6,492.4 L1197.0,494.1 L1193.4,495.9 L1189.8,497.7 L1186.2,499.5 L1182.7,501.3 L1179.1,503.1 L1175.5,504.9 L1172.0,506.7 L1168.4,508.5 L1164.9,510.4 L1161.3,512.2 L1157.7,514.1 L1154.2,515.9 L1150.7,517.8 L1147.1,519.6 L1143.6,521.5 L1140.1,523.4 L1136.5,525.3 L1133.0,527.2 L1129.5,529.1 L1126.0,531.0 L1122.5,532.9 L1118.9,534.8 L1115.4,536.7 L1111.9,538.7 L1108.4,540.6 L1105.0,542.6 L1101.5,544.5 L1098.0,546.5 L1094.5,548.5 L1091.0,550.4 L1087.6,552.4 L1084.1,554.4 L1080.6,556.4 L1077.2,558.4 L1073.7,560.5 L1070.3,562.5 L1066.8,564.5 L1063.4,566.5 L1059.9,568.6 L1056.5,570.6 L1053.1,572.7 L1049.6,574.8 L1046.2,576.8 L1042.8,578.9 L1039.4,581.0 L1036.0,583.1 L1032.6,585.2 L1029.2,587.3 L1025.8,589.4 L1022.4,591.6 L1019.0,593.7 L1015.7,595.8 L1012.3,598.0 L1008.9,600.1 L1005.5,602.3 L1002.2,604.5 L998.8,606.7 L995.5,608.8 L992.1,611.0 L988.8,613.2 L985.5,615.4 L982.1,617.7 L978.8,619.9 L975.5,622.1 L972.2,624.3 L968.9,626.6 L965.6,628.8 L962.3,631.1 L959.0,633.4 L955.7,635.7 L952.4,637.9 L949.1,640.2 L945.8,642.5 L942.6,644.8 L939.3,647.1 L936.1,649.5 L932.8,651.8 L929.6,654.1 L926.3,656.5 L923.1,658.8 L919.9,661.2 L916.6,663.5 L913.4,665.9 L910.2,668.3 L907.0,670.7 L903.8,673.1 L900.6,675.5 L897.4,677.9 L894.2,680.3 L891.0,682.8 L887.9,685.2 L884.7,687.6 L881.5,690.1 L878.4,692.5 L875.2,695.0 L872.1,697.5 L868.9,699.9 L865.8,702.4 L862.7,704.9 L859.6,707.4 L856.4,709.9 L853.3,712.5 L850.2,715.0 L847.1,717.5 L844.1,720.1 L841.0,722.6 L837.9,725.2 L834.8,727.7 L831.7,730.3 L828.7,732.9 L825.6,735.4 L822.6,738.0 L819.5,740.6 L816.5,743.2 L813.5,745.8 L810.5,748.5 L807.4,751.1 L804.4,753.7 L801.4,756.4 L798.4,759.0 L795.4,761.7 L792.5,764.3 L789.5,767.0 L786.5,769.7 L783.6,772.4 L780.6,775.1 L777.6,777.8 L774.7,780.5 L771.8,783.2 L768.8,785.9 L765.9,788.6 L763.0,791.4 L760.1,794.1 L757.2,796.9 L754.3,799.6 L751.4,802.4 L748.5,805.2 L745.6,807.9 L742.7,810.7 L739.9,813.5 L737.0,816.3 L734.2,819.1 L731.3,821.9 L728.5,824.8 L725.7,827.6 L722.9,830.5 L720.1,833.3 L717.3,836.2 L714.5,839.0 L711.7,841.9 L708.9,844.8 L706.2,847.7 L703.4,850.6 L700.6,853.5 L697.9,856.4 L695.2,859.3 L692.4,862.2 L689.7,865.2 L687.0,868.1 L684.3,871.1 L681.6,874.0 L678.9,877.0 L676.2,879.9 L673.5,882.9 L670.8,885.9 L668.2,888.8 L665.5,891.8 L662.8,894.8 L660.2,897.8 L657.6,900.8 L654.9,903.8 L652.3,906.8 L649.7,909.9 L647.1,912.9 L644.5,915.9 L641.9,919.0 L639.3,922.0 L636.7,925.1 L634.1,928.1 L631.5,931.2 L629.0,934.3 L626.4,937.3 L623.9,940.4 L621.3,943.5 L618.8,946.6 L616.3,949.7 L613.7,952.8 L611.2,955.9 L608.7,959.0 L606.2,962.2 L603.7,965.3 L601.2,968.4 L598.7,971.6 L596.3,974.7 L593.8,977.9 L591.4,981.0 L588.9,984.2 L586.5,987.3 L584.0,990.5 L581.6,993.7 L579.2,996.9 L576.7,1000.1 L574.3,1003.3 L571.9,1006.5 L569.5,1009.7 L567.1,1012.9 L564.8,1016.1 L562.4,1019.3 L560.0,1022.5 L557.7,1025.8 L555.3,1029.0 L553.0,1032.2 L550.6,1035.5 L548.3,1038.7 L546.0,1042.0 L543.6,1045.2 L541.3,1048.5 L539.0,1051.8 L536.7,1055.0 L534.4,1058.3 L532.1,1061.6 L529.9,1064.9 L527.6,1068.2 L525.3,1071.5 L523.1,1074.8 L520.8,1078.1 L518.6,1081.4 L516.4,1084.7 L514.1,1088.1 L511.9,1091.4 L509.7,1094.7 L507.5,1098.0 L505.3,1101.4 L503.1,1104.7 L500.9,1108.1 L498.7,1111.4 L496.5,1114.8 L494.4,1118.2 L492.2,1121.5 L490.1,1124.9 L487.9,1128.3 L485.8,1131.7 L483.7,1135.0 L481.5,1138.4 L479.4,1141.8 L477.3,1145.2 L475.2,1148.6 L473.1,1152.0 L471.0,1155.5 L469.0,1158.9 L466.9,1162.3 L464.8,1165.7 L462.8,1169.2 L460.7,1172.6 L458.7,1176.0 L456.6,1179.5 L454.6,1182.9 L452.6,1186.4 L450.6,1189.8 L448.6,1193.3 L446.6,1196.8 L444.6,1200.2 L442.6,1203.7 L440.7,1207.2 L438.7,1210.7 L436.8,1214.2 L434.8,1217.7 L432.9,1221.2 L431.0,1224.7 L429.1,1228.2 L427.2,1231.7 L425.3,1235.2 L423.4,1238.7 L421.5,1242.3 L419.6,1245.8 L417.8,1249.3 L416.0,1252.9 L414.1,1256.4 L412.3,1260.0 L410.5,1263.5 L408.7,1267.1 L406.9,1270.7 L405.1,1274.2 L403.4,1277.8 L401.6,1281.4 L399.9,1285.0 L398.2,1288.6 L396.4,1292.2 L394.7,1295.8 L393.1,1299.4 L391.4,1303.1 L389.7,1306.7 L388.1,1310.3 L386.5,1314.0 L384.9,1317.6 L383.3,1321.3 L381.7,1324.9 L380.1,1328.6 L378.6,1332.3 L377.1,1335.9 L375.5,1339.6 L374.1,1343.3 L373.8,1344.0 Q373.5,1344.6 368.0,1344.6Z" fill="#000"/>
<g fill="none" stroke="#000" stroke-linecap="round" stroke-linejoin="round">
<polyline points="370.0,1387.3 376.3,1376.5 383.0,1365.7 389.9,1354.9 397.1,1344.1" stroke-width="11.9"/>
<polyline points="440.4,1284.5 449.0,1273.4 457.8,1262.4 466.8,1251.4 476.0,1240.3" stroke-width="10.9"/>
<polyline points="528.1,1181.6 538.8,1170.3 549.7,1159.1 560.8,1147.9 572.1,1136.7" stroke-width="10.0"/>
<polyline points="630.8,1082.7 641.8,1073.1 652.9,1063.8 663.9,1054.7 675.0,1045.8" stroke-width="10.8"/>
<polyline points="734.5,1001.0 745.3,993.4 756.2,985.9 767.0,978.5 777.9,971.4" stroke-width="11.6"/>
<polyline points="838.1,934.0 848.8,927.8 859.5,921.7 870.2,915.7 880.9,909.8" stroke-width="12.2"/>
<polyline points="941.6,878.5 952.2,873.4 962.8,868.4 973.4,863.4 983.9,858.6" stroke-width="12.7"/>
<polyline points="1045.1,832.2 1055.6,828.0 1066.1,823.8 1076.6,819.7 1087.1,815.7" stroke-width="13.0"/>
<polyline points="1148.5,793.4 1158.9,789.8 1169.4,786.3 1179.8,782.9 1190.2,779.5" stroke-width="13.3"/>
<polyline points="1251.9,760.5 1262.3,757.5 1272.7,754.6 1283.1,751.7 1293.4,748.8" stroke-width="13.5"/>
<polyline points="1355.3,732.7 1365.6,730.2 1376.0,727.7 1386.3,725.2 1396.7,722.8" stroke-width="13.6"/>
<polyline points="1458.6,709.0 1469.0,706.9 1479.3,704.8 1489.6,702.7 1499.9,700.6" stroke-width="13.7"/>
<polyline points="1562.0,688.9 1572.3,687.0 1582.6,685.2 1592.9,683.4 1603.2,681.7" stroke-width="13.8"/>
<polyline points="1665.3,671.7 1675.6,670.1 1685.9,668.6 1696.2,667.0 1706.5,665.5" stroke-width="13.8"/>
<polyline points="1768.6,657.0 1778.9,655.7 1789.2,654.3 1799.5,653.0 1809.7,651.8" stroke-width="13.9"/>
<polyline points="1871.9,644.5 1882.2,643.3 1892.5,642.2 1902.7,641.1 1913.0,640.0" stroke-width="13.9"/>
<polyline points="1975.2,633.8 1985.5,632.9 1995.8,631.9 2006.0,631.0 2016.3,630.1" stroke-width="13.9"/>
</g>
<g stroke="#000" stroke-linecap="round" fill="none">
<line x1="747.6" y1="1486" x2="747.6" y2="1472.2" stroke-width="23"/>
<line x1="1188.1" y1="1486" x2="1188.1" y2="1472.2" stroke-width="23"/>
<line x1="1628.5" y1="1486" x2="1628.5" y2="1472.2" stroke-width="23"/>
<line x1="527.4" y1="1486" x2="527.4" y2="1478.7" stroke-width="19.4"/>
<line x1="967.9" y1="1486" x2="967.9" y2="1478.7" stroke-width="19.4"/>
<line x1="1408.3" y1="1486" x2="1408.3" y2="1478.7" stroke-width="19.4"/>
<line x1="1848.8" y1="1486" x2="1848.8" y2="1478.7" stroke-width="19.4"/>
<line x1="309" y1="781.6" x2="322.3" y2="781.6" stroke-width="24"/>
<line x1="308" y1="428.3" x2="316.2" y2="428.3" stroke-width="18.4"/>
<line x1="308" y1="1134.8" x2="316.2" y2="1134.8" stroke-width="18.4"/>
</g>
<g fill="#000">
<rect x="299.5" y="64.3" width="27.9" height="21.6" rx="4" ry="4"/>
<rect x="2057.7" y="1465.9" width="24.1" height="33" rx="4" ry="4"/>
<rect x="296" y="67.3" width="22.5" height="1431.6" rx="2"/>
<rect x="296" y="1477.3" width="1781" height="21.6" rx="2"/>
<rect x="296" y="67.3" width="1781" height="15.4" rx="1"/>
<rect x="2061" y="67.3" width="16" height="1431.6" rx="1"/>
</g>
<g fill="#000">
<text transform="translate(167.41,98.11) scale(1,1.0227)" font-family="'Liberation Sans', sans-serif" font-weight="bold" font-size="87.35">0.8</text>
<text transform="translate(167.41,804.30) scale(1,1.0349)" font-family="'Liberation Sans', sans-serif" font-weight="bold" font-size="87.14">0.4</text>
<text transform="translate(281.54,1571.31) scale(1,1.0601)" font-family="'Liberation Sans', sans-serif" font-weight="bold" font-size="84.00">0</text>
<text transform="translate(696.56,1571.30) scale(1,1.0268)" font-family="'Liberation Sans', sans-serif" font-weight="bold" font-size="87.96">75</text>
<text transform="translate(1113.25,1571.31) scale(1,1.0026)" font-family="'Liberation Sans', sans-serif" font-weight="bold" font-size="88.82">150</text>
<text transform="translate(1552.17,1571.31) scale(1,0.9959)" font-family="'Liberation Sans', sans-serif" font-weight="bold" font-size="89.41">225</text>
<text transform="translate(1994.93,1571.31) scale(1,1.0158)" font-family="'Liberation Sans', sans-serif" font-weight="bold" font-size="87.66">300</text>
<text transform="translate(1359.65,1006.92) scale(1,1.0282)" font-family="'Liberation Sans', sans-serif" font-weight="bold" font-size="86.03">Vacuum</text>
<text transform="translate(1357.72,1118.49) scale(1,1.0623)" font-family="'Liberation Sans', sans-serif" font-weight="bold" font-size="85.57">Kerosene</text>
<text transform="translate(1357.70,1230.00) scale(1,1.0530)" font-family="'Liberation Sans', sans-serif" font-weight="bold" font-size="85.92">Ethanol</text>
<text transform="translate(1183.83,1704.90) scale(1,0.9553)" font-family="'DejaVu Sans Condensed', sans-serif" font-weight="bold" font-size="119.30">Z</text>
<text transform="translate(1291.69,1711.54) scale(1,1.0766)" font-family="'DejaVu Sans Condensed', sans-serif" font-weight="bold" font-size="111.15">(</text>
<text transform="translate(1335.16,1704.90) scale(1,1.0014)" font-family="'DejaVu Sans Condensed', sans-serif" font-weight="bold" font-size="112.53">n</text>
<text transform="translate(1405.73,1704.90) scale(1,0.9977)" font-family="'DejaVu Sans Condensed', sans-serif" font-weight="bold" font-size="112.93">m</text>
<text transform="translate(1510.70,1711.54) scale(1,1.0983)" font-family="'DejaVu Sans Condensed', sans-serif" font-weight="bold" font-size="108.95">)</text>
<text stroke="#000" stroke-width="1.7" stroke-linejoin="round" transform="translate(113.56,617.79) rotate(-90) scale(1,0.9102)" font-family="'Liberation Serif', serif" font-weight="normal" font-size="119.12">η</text>
<text transform="translate(162.31,552.17) rotate(-90) scale(1,1.0175)" font-family="'Liberation Sans', sans-serif" font-weight="bold" font-size="73.36">pp</text>
<text transform="translate(115.04,465.09) rotate(-90) scale(1,1.1240)" font-family="'Liberation Sans', sans-serif" font-weight="bold" font-size="105.71">(</text>
<text transform="translate(116.60,430.03) rotate(-90) scale(1,0.9998)" font-family="'DejaVu Sans', sans-serif" font-weight="bold" font-size="89.61">Z</text>
<text transform="translate(115.04,360.96) rotate(-90) scale(1,1.1472)" font-family="'Liberation Sans', sans-serif" font-weight="bold" font-size="103.57">)</text>
</g>
<rect x="1126.3" y="972.3" width="215.2" height="13.6" rx="3" fill="#000"/>
<rect x="1126.3" y="1082.7" width="215.2" height="13.6" rx="3" fill="#ff0000"/>
<rect x="1126.3" y="1194.2" width="55.8" height="13.6" rx="3" fill="#000"/>
<rect x="1229.3" y="1194.2" width="56" height="13.6" rx="3" fill="#000"/>
</svg>
</body>
</html>
